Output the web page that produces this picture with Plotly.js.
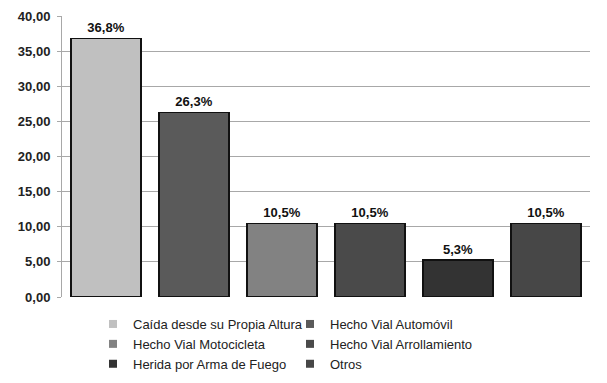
<!DOCTYPE html>
<html><head><meta charset="utf-8">
<script src="https://cdn.plot.ly/plotly-3.0.1.min.js"></script>
<style>body{margin:0;background:#fff}#c{width:607px;height:383px}</style>
</head><body><div id="c"></div>
<script>
const categories = ["Caída desde su Propia Altura","Hecho Vial Automóvil","Hecho Vial Motocicleta","Hecho Vial Arrollamiento","Herida por Arma de Fuego","Otros"];
const values = [36.8, 26.3, 10.5, 10.5, 5.3, 10.5];
const labels = ["36,8%","26,3%","10,5%","10,5%","5,3%","10,5%"];
const colors = ["#c0c0c0","#5a5a5a","#828282","#4a4a4a","#333333","#474747"];
const yTicks = [0,5,10,15,20,25,30,35,40];

const FONT = 'Liberation Sans, Arial, sans-serif';
const bars = categories.map((c,i)=>({
  type:'bar', name:c, x:[c], y:[values[i]], text:[labels[i]], legendgroup:c, showlegend:false,
  textposition:'outside', cliponaxis:false,
  textfont:{family:FONT, size:13, color:'#111', weight:'bold'},
  marker:{color:colors[i], line:{color:'#111', width:1.5}},
  hoverinfo:'none'
}));
const legendItems = categories.map((c,i)=>({
  type:'scatter', mode:'markers', name:c, x:[null], y:[null], legendgroup:c, showlegend:true,
  marker:{symbol:'square', size:8, color:colors[i]}, hoverinfo:'none'
}));

Plotly.newPlot('c', bars.concat(legendItems), {
  width:607, height:383,
  margin:{l:62, r:17, t:16, b:0},
  barmode:'stack', bargap:0.2,
  separators:',.',
  paper_bgcolor:'#fff', plot_bgcolor:'#fff',
  font:{family:FONT, size:13, color:'#222'},
  xaxis:{categoryorder:'array', categoryarray:categories, showticklabels:false, showgrid:false, zeroline:false, showline:false, ticks:'', anchor:'y'},
  yaxis:{domain:[0.2343,1], range:[0,40], tickvals:yTicks, tickformat:'.2f', showgrid:true, gridcolor:'#a8a8a8', gridwidth:1,
    showline:true, linecolor:'#a8a8a8', linewidth:1, ticks:'outside', ticklen:4, tickcolor:'#a8a8a8', ticklabelstandoff:4,
    zeroline:false, tickfont:{size:13, weight:'bold', color:'#222'}},
  showlegend:true,
  legend:{orientation:'h', x:0.0587, xanchor:'left', y:0.2016, yanchor:'top', entrywidth:152, entrywidthmode:'pixels',
    font:{size:13, color:'#222'}, itemclick:false, traceorder:'normal', itemwidth:30}
}, {staticPlot:true});
</script></body></html>
